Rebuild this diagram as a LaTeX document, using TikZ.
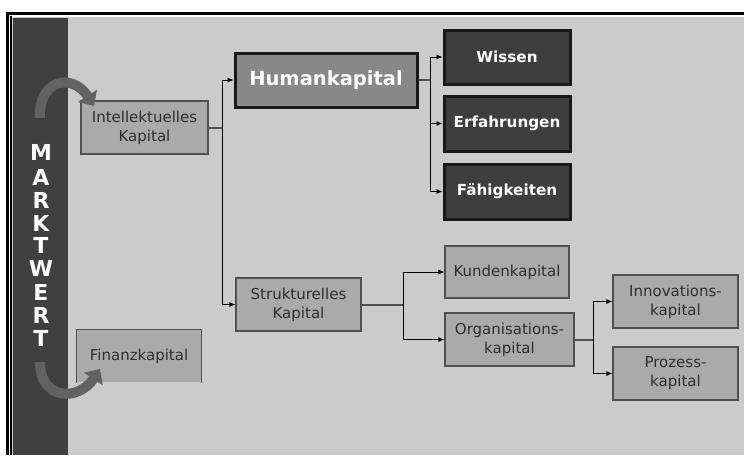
\documentclass[tikz,border=0pt]{standalone}
\usepackage{fontspec}
\setmainfont{DejaVu Sans}
\usetikzlibrary{arrows.meta}
\definecolor{bg}{HTML}{CBCBCB}
\definecolor{colfill}{HTML}{404040}
\definecolor{boxfill}{HTML}{AAAAAA}
\definecolor{boxline}{HTML}{505050}
\definecolor{humfill}{HTML}{888888}
\definecolor{darkfill}{HTML}{3E3E3E}
\definecolor{curv}{HTML}{626262}
\begin{document}
\begin{tikzpicture}[x=1pt,y=-1pt,
  lbox/.style={draw=boxline, line width=1.2pt, fill=boxfill, text=black!82,
    align=center, font=\fontsize{15}{19}\selectfont, inner sep=0pt},
  hbox/.style={draw=black!90, line width=3pt, fill=humfill, text=white,
    align=center, font=\fontsize{19.5}{23}\selectfont\bfseries, inner sep=0pt},
  dbox/.style={draw=black!90, line width=3pt, fill=darkfill, text=white!92,
    align=center, font=\fontsize{15.2}{19}\selectfont\bfseries, inner sep=0pt},
  feed/.style={draw=boxline, line width=2pt},
  arr/.style={draw=black, line width=0.8pt, -{Latex[length=6pt,width=5pt]}},
  curvearrow/.style={draw=curv, line width=10pt, -{Triangle[width=22pt,length=12pt]}},
  letter/.style={text=white, font=\fontsize{22}{22}\selectfont\bfseries, inner sep=0pt}
]
\useasboundingbox (0,0) rectangle (744,455);
\fill[white] (0,0) rectangle (744,455);
\fill[bg] (12,17) rectangle (744,455);
\fill[colfill] (12.5,17.5) rectangle (68,455);
\draw[line width=2.5pt] (7.25,455) -- (7.25,13.25) -- (744,13.25);
\draw[line width=1.3pt] (11,455) -- (11,16.2);

% MARKTWERT
\node[letter] (m1) at (41,152) {M};
\node[letter] (m2) at (41,177) {A};
\node[letter] (m3) at (41,200.5) {R};
\node[letter] (m4) at (41,223) {K};
\node[letter] (m5) at (41,245.5) {T};
\node[letter] (m6) at (41,268.5) {W};
\node[letter] (m7) at (41,292) {E};
\node[letter] (m8) at (41,315.5) {R};
\node[letter] (m9) at (41,338.5) {T};

% boxes
\node[lbox, minimum width=127pt, minimum height=53pt] (ik) at (144.5,127.5) {Intellektuelles\\Kapital};
\node[lbox, draw=none, minimum width=124pt, minimum height=52pt] (fk) at (139,356) {Finanzkapital};
\draw[boxline, line width=1.2pt] (fk.south west) -- (fk.north west) -- (fk.north east) -- (fk.south east);
\node[hbox, minimum width=182pt, minimum height=54pt] (hk) at (326,80) {Humankapital};
\node[dbox, minimum width=126pt, minimum height=54pt] (wi) at (507,57) {Wissen};
\node[dbox, minimum width=126pt, minimum height=55pt] (er) at (507,123.5) {Erfahrungen};
\node[dbox, minimum width=126pt, minimum height=55pt] (fa) at (507,191.5) {Fähigkeiten};
\node[lbox, minimum width=125pt, minimum height=53pt] (sk) at (298.5,304.5) {Strukturelles\\Kapital};
\node[lbox, minimum width=124pt, minimum height=52pt] (kk) at (507,272) {Kundenkapital};
\node[lbox, minimum width=129pt, minimum height=53pt] (ok) at (509.5,339.5) {Organisations-\\kapital};
\node[lbox, minimum width=125pt, minimum height=53pt] (inv) at (675.5,301.5) {Innovations-\\kapital};
\node[lbox, minimum width=125pt, minimum height=53pt] (pk) at (675.5,373.5) {Prozess-\\kapital};

% connectors
\coordinate (j1) at (222,127.5);
\draw[feed] (ik.east) -- (j1);
\draw[arr] (j1) |- (hk.west);
\draw[arr] (j1) |- (sk.west);

\coordinate (j2) at (430,80);
\draw[feed] (hk.east) -- (j2);
\draw[arr] (j2) |- (wi.west);
\draw[arr] (j2) |- (er.west);
\draw[arr] (j2) |- (fa.west);

\coordinate (j3) at (403,304.5);
\draw[feed] (sk.east) -- (j3);
\draw[arr] (j3) |- (kk.west);
\draw[arr] (j3) |- (ok.west);

\coordinate (j4) at (593,339.5);
\draw[feed] (ok.east) -- (j4);
\draw[arr] (j4) |- (inv.west);
\draw[arr] (j4) |- (pk.west);

% curved arrows
\coordinate (c1s) at (40,118);
\coordinate (c1e) at (94,106);
\draw[curvearrow] (c1s) .. controls (38,80) and (72,72) .. (c1e);
\coordinate (c2s) at (40,362);
\coordinate (c2e) at (100,369);
\draw[curvearrow] (c2s) .. controls (40,400) and (78,402) .. (c2e);
\end{tikzpicture}
\end{document}
